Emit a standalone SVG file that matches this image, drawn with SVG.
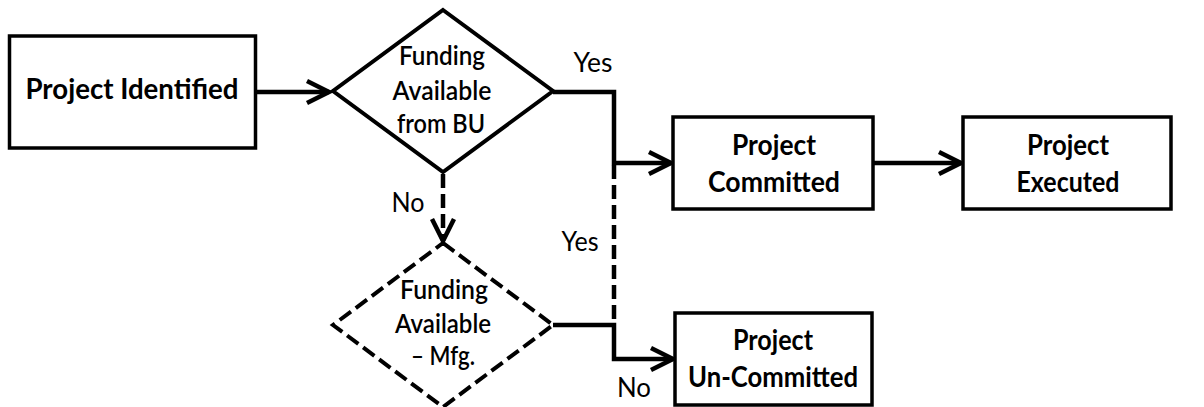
<svg xmlns="http://www.w3.org/2000/svg" width="1204" height="407" viewBox="0 0 1204 407">
  <style>
    .box { fill: #fff; stroke: #000; stroke-width: 3.5; }
    .dia { fill: #fff; stroke: #000; stroke-width: 4; stroke-linejoin: miter; }
    .dashed { stroke-dasharray: 14 6; }
    .t { font-family: Lato, "Open Sans", "Liberation Sans", sans-serif; font-weight: bold; fill: #000; text-anchor: middle; }
    .tb { font-size: 28px; }
    .td { font-size: 26px; font-weight: 600; }
    .lbl { font-family: Lato, "Open Sans", "Liberation Sans", sans-serif; font-size: 27px; fill: #000; text-anchor: middle; }
    .wire { fill: none; stroke: #000; stroke-width: 4.5; stroke-linejoin: miter; }
  </style>
  <defs>
    <marker id="chev" viewBox="0 0 12 12" refX="11" refY="6" markerWidth="12" markerHeight="12" markerUnits="userSpaceOnUse" orient="auto" overflow="visible">
      <path d="M-11,-5 L11,6 L-11,17" fill="none" stroke="#000" stroke-width="4.5" stroke-linejoin="miter"/>
    </marker>
  </defs>

  <rect width="1204" height="407" fill="#fff"/>

  <!-- connectors -->
  <g id="connectors">
    <path class="wire" d="M256,92 L329,92" marker-end="url(#chev)"/>
    <path class="wire" d="M553,92 L614,92 L614,163 L671,163" marker-end="url(#chev)"/>
    <path class="wire" d="M873,163 L961,163" marker-end="url(#chev)"/>
    <path class="wire dashed" d="M443,174 L443,241" marker-end="url(#chev)"/>
    <path class="wire dashed" d="M614,165 L614,323"/>
    <path class="wire" d="M553,325 L614,325 L614,359 L673,359" marker-end="url(#chev)"/>
  </g>

  <!-- edge labels -->
  <g id="labels">
    <text class="lbl" x="593" y="72" textLength="39" lengthAdjust="spacingAndGlyphs">Yes</text>
    <text class="lbl" x="408" y="212" textLength="33" lengthAdjust="spacingAndGlyphs">No</text>
    <text class="lbl" x="580" y="251" textLength="37" lengthAdjust="spacingAndGlyphs">Yes</text>
    <text class="lbl" x="634" y="397" textLength="34" lengthAdjust="spacingAndGlyphs">No</text>
  </g>

  <g id="project-identified">
    <rect class="box" x="9.5" y="36" width="246" height="112"/>
    <text class="t tb" x="132" y="99" textLength="213" lengthAdjust="spacingAndGlyphs">Project Identified</text>
  </g>

  <g id="funding-bu">
    <polygon class="dia" points="443,10 553,91 443,172 333,91"/>
    <text class="t td" x="442" y="65" textLength="86" lengthAdjust="spacingAndGlyphs">Funding</text>
    <text class="t td" x="442" y="100" textLength="99" lengthAdjust="spacingAndGlyphs">Available</text>
    <text class="t td" x="441" y="133" textLength="88" lengthAdjust="spacingAndGlyphs">from BU</text>
  </g>

  <g id="funding-mfg">
    <polygon class="dia dashed" points="443,243 553,325 443,407 333,325"/>
    <text class="t td" x="444" y="299" textLength="88" lengthAdjust="spacingAndGlyphs">Funding</text>
    <text class="t td" x="443" y="333" textLength="96" lengthAdjust="spacingAndGlyphs">Available</text>
    <text class="t td" x="443" y="365" textLength="64" lengthAdjust="spacingAndGlyphs">– Mfg.</text>
  </g>

  <g id="project-committed">
    <rect class="box" x="673" y="117" width="200" height="92"/>
    <text class="t tb" x="774" y="155" textLength="84" lengthAdjust="spacingAndGlyphs">Project</text>
    <text class="t tb" x="774" y="192" textLength="132" lengthAdjust="spacingAndGlyphs">Committed</text>
  </g>

  <g id="project-executed">
    <rect class="box" x="963" y="117" width="208" height="92"/>
    <text class="t tb" x="1068" y="155" textLength="82" lengthAdjust="spacingAndGlyphs">Project</text>
    <text class="t tb" x="1068" y="192" textLength="103" lengthAdjust="spacingAndGlyphs">Executed</text>
  </g>

  <g id="project-uncommitted">
    <rect class="box" x="675" y="313" width="197" height="92"/>
    <text class="t tb" x="773" y="350" textLength="80" lengthAdjust="spacingAndGlyphs">Project</text>
    <text class="t tb" x="773" y="387" textLength="170" lengthAdjust="spacingAndGlyphs">Un-Committed</text>
  </g>
</svg>
